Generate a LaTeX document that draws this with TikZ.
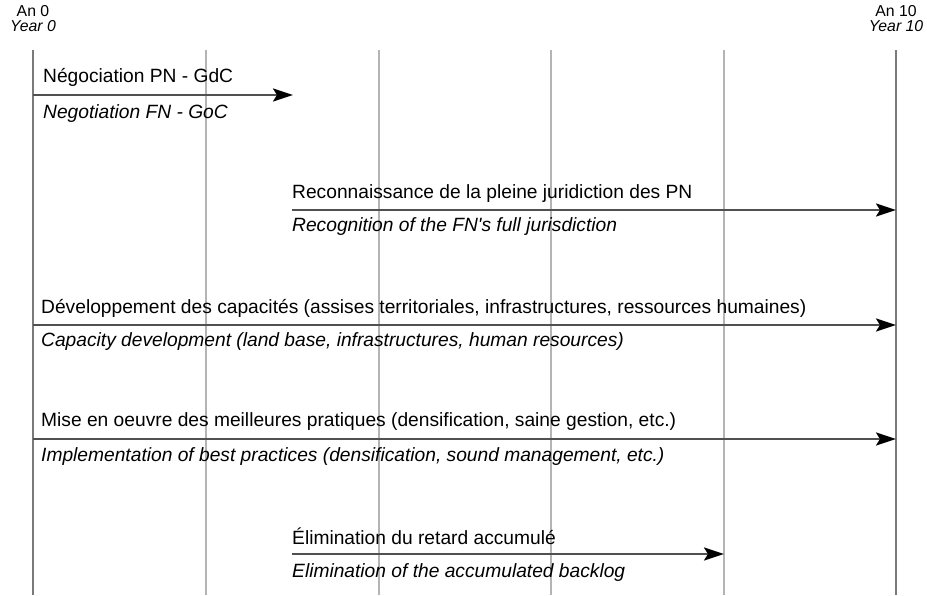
\documentclass[tikz,border=0pt]{standalone}
\usepackage{fontspec}
\setmainfont{Liberation Sans}
\newfontfamily\lsans{Liberation Sans}
\usetikzlibrary{arrows.meta}
\definecolor{outerline}{HTML}{7A7A7A}
\definecolor{innerline}{HTML}{B4B4B4}
\definecolor{shaft}{HTML}{505050}
\begin{document}
\begin{tikzpicture}[x=1pt,y=-1pt,
  outerrule/.style={draw=outerline,line width=1.4pt},
  innerrule/.style={draw=innerline,line width=1.2pt},
  phase/.style={draw=shaft,line width=2.4pt,-{Stealth[length=20pt,width=13pt,inset=4pt,fill=black,color=black]}},
  frlab/.style={anchor=west,inner sep=0pt,font=\lsans\fontsize{19.2}{23}\selectfont},
  enlab/.style={anchor=west,inner sep=0pt,font=\lsans\fontsize{19.2}{23}\selectfont\itshape},
  yearfr/.style={inner sep=0pt,font=\lsans\fontsize{15.8}{18}\selectfont},
  yearen/.style={inner sep=0pt,font=\lsans\fontsize{15.8}{18}\selectfont\itshape}]
\useasboundingbox (0,0) rectangle (927,595);
% vertical year rules
\foreach \n/\x in {t2/206,t4/379,t6/551,t8/724}{
  \coordinate (\n top) at (\x,50);
  \coordinate (\n bot) at (\x,595);
  \draw[innerrule] (\n top) -- (\n bot);
}
\coordinate (t0top) at (33,50);
\coordinate (t0bot) at (33,595);
\coordinate (t10top) at (896,50);
\coordinate (t10bot) at (896,595);
\draw[outerrule] (t0top) -- (t0bot);
\draw[outerrule] (t10top) -- (t10bot);
% headers
\node[yearfr] (an0) at (33,11) {An 0};
\node[yearen] (yr0) at (33,26) {Year 0};
\node[yearfr] (an10) at (896,11) {An 10};
\node[yearen] (yr10) at (896,26) {Year 10};
% phase 1
\coordinate (p1s) at (33,95);
\coordinate (p1e) at (293,95);
\draw[phase] (p1s) -- (p1e);
\node[frlab] (f1) at (43,77) {Négociation PN - GdC};
\node[enlab] (e1) at (43,114) {Negotiation FN - GoC};
% phase 2
\coordinate (p2s) at (292,210);
\coordinate (p2e) at (896,210);
\draw[phase] (p2s) -- (p2e);
\node[frlab] (f2) at (292,194) {Reconnaissance de la pleine juridiction des PN};
\node[enlab] (e2) at (292,227) {Recognition of the FN's full jurisdiction};
% phase 3
\coordinate (p3s) at (33,325);
\coordinate (p3e) at (896,325);
\draw[phase] (p3s) -- (p3e);
\node[frlab] (f3) at (41,308) {Développement des capacités (assises territoriales, infrastructures, ressources humaines)};
\node[enlab] (e3) at (41,342) {Capacity development (land base, infrastructures, human resources)};
% phase 4
\coordinate (p4s) at (33,439);
\coordinate (p4e) at (896,439);
\draw[phase] (p4s) -- (p4e);
\node[frlab] (f4) at (41,422) {Mise en oeuvre des meilleures pratiques (densification, saine gestion, etc.)};
\node[enlab] (e4) at (41,457) {Implementation of best practices (densification, sound management, etc.)};
% phase 5
\coordinate (p5s) at (292,554);
\coordinate (p5e) at (724,554);
\draw[phase] (p5s) -- (p5e);
\node[frlab] (f5) at (292,536) {Élimination du retard accumulé};
\node[enlab] (e5) at (292,573) {Elimination of the accumulated backlog};
\end{tikzpicture}
\end{document}
